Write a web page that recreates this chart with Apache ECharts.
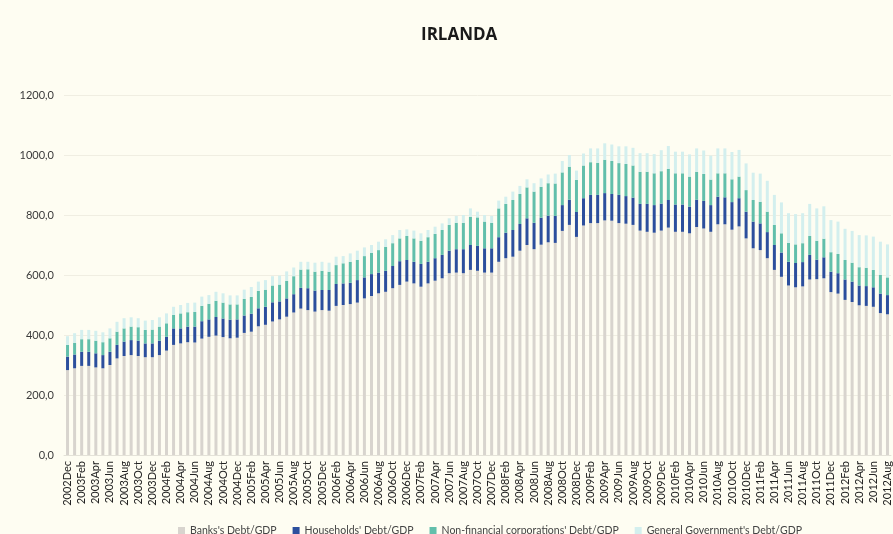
<!DOCTYPE html>
<html lang="it">
<head>
  <meta charset="UTF-8">
  <title>IRLANDA</title>
  <script src="https://cdn.jsdelivr.net/npm/echarts@6/dist/echarts.min.js"></script>
  <style>
    html, body { margin: 0; padding: 0; background: #fefdf2; }
    #chart { width: 893px; height: 534px; }
  </style>
</head>
<body>
<div id="chart"></div>
<script>
  // months 2002Dec .. 2012Aug
  const monthNames = ['Jan','Feb','Mar','Apr','May','Jun','Jul','Aug','Sep','Oct','Nov','Dec'];
  const categories = [];
  for (let i = 0; i < 117; i++) {
    const m = 11 + i;
    categories.push((2002 + Math.floor(m / 12)) + monthNames[m % 12]);
  }

  const banks = [
    283, 289, 297, 297, 292, 289, 300, 322, 330, 333, 330, 326, 326, 333, 348, 367, 372, 376, 375, 388,
    394, 398, 393, 389, 391, 407, 411, 429, 434, 445, 452, 461, 475, 488, 483, 478, 483, 481, 497, 500,
    503, 508, 522, 530, 539, 544, 556, 567, 578, 572, 561, 572, 581, 589, 606, 608, 606, 617, 614, 608,
    608, 644, 656, 661, 681, 700, 686, 701, 709, 707, 747, 767, 727, 765, 773, 773, 782, 781, 773, 771,
    767, 748, 744, 741, 748, 758, 744, 744, 739, 760, 755, 744, 769, 769, 751, 762, 722, 689, 683, 656,
    617, 594, 565, 559, 562, 585, 586, 589, 543, 538, 517, 510, 499, 497, 494, 473, 469
  ];
  const households = [
    45, 46, 47, 47, 47, 44, 44, 45, 48, 50, 51, 46, 46, 48, 46, 55, 50, 52, 53, 58,
    58, 62, 62, 62, 61, 58, 60, 60, 60, 64, 60, 61, 61, 69, 73, 70, 67, 69, 73, 72,
    71, 75, 70, 73, 69, 70, 74, 79, 72, 72, 76, 72, 75, 78, 75, 78, 80, 83, 83, 81,
    81, 82, 85, 89, 89, 89, 88, 90, 89, 90, 86, 84, 83, 91, 94, 94, 91, 89, 94, 92,
    91, 89, 93, 92, 90, 92, 91, 91, 89, 91, 92, 89, 92, 90, 92, 94, 89, 89, 89, 87,
    83, 81, 79, 81, 81, 82, 65, 70, 68, 68, 68, 68, 66, 66, 65, 65, 64
  ];
  const nonFinancial = [
    39, 39, 42, 42, 42, 43, 45, 44, 44, 45, 45, 45, 46, 47, 45, 45, 50, 48, 49, 51,
    52, 54, 53, 51, 50, 55, 56, 58, 57, 56, 56, 58, 60, 61, 63, 63, 64, 61, 63, 67,
    70, 67, 71, 71, 75, 80, 76, 76, 80, 78, 77, 82, 81, 83, 86, 88, 88, 94, 95, 89,
    85, 96, 96, 100, 100, 103, 104, 103, 108, 108, 109, 110, 107, 109, 109, 107, 111, 110, 106, 107,
    107, 107, 107, 106, 108, 104, 104, 104, 100, 93, 90, 85, 78, 80, 76, 72, 72, 72, 72, 68,
    67, 64, 63, 62, 63, 63, 63, 62, 65, 64, 65, 63, 61, 61, 58, 62, 59
  ];
  const government = [
    29, 32, 31, 31, 33, 33, 33, 33, 34, 31, 30, 31, 32, 31, 33, 27, 28, 31, 31, 31,
    29, 30, 31, 30, 30, 31, 33, 31, 32, 31, 30, 32, 29, 26, 25, 30, 30, 30, 28, 24,
    28, 31, 29, 26, 28, 25, 27, 28, 22, 26, 25, 24, 24, 22, 22, 23, 26, 28, 19, 22,
    23, 26, 24, 28, 27, 27, 28, 28, 29, 33, 38, 39, 31, 40, 46, 48, 55, 55, 56, 59,
    59, 62, 62, 64, 70, 76, 72, 72, 74, 78, 78, 80, 83, 83, 91, 89, 89, 91, 94, 103,
    100, 103, 99, 101, 100, 107, 108, 108, 107, 108, 104, 106, 107, 108, 111, 111, 110
  ];

  const seriesNames = ["Banks's Debt/GDP", "Households' Debt/GDP", "Non-financial corporations' Debt/GDP", "General Government's Debt/GDP"];
  const seriesColors = ['#d8d4ce', '#2c4f9d', '#62bfab', '#d3efee'];
  const seriesData = [banks, households, nonFinancial, government];

  const chart = echarts.init(document.getElementById('chart'));

  chart.setOption({
    backgroundColor: '#fefdf2',
    animation: false,
    title: {
      text: 'IRLANDA',
      left: 416,
      top: 22,
      textStyle: { fontFamily: 'Open Sans', fontSize: 17, fontWeight: 'bold', color: '#1a1a1a' }
    },
    legend: {
      left: 173,
      top: 520,
      icon: 'rect',
      itemWidth: 7,
      itemHeight: 7,
      itemGap: 16,
      textStyle: { fontFamily: 'Lato', fontSize: 10.5, color: '#444' },
      data: seriesNames
    },
    grid: { left: 64, right: 2, top: 95, bottom: 79 },
    xAxis: {
      type: 'category',
      data: categories,
      axisTick: { show: false },
      axisLine: { lineStyle: { color: '#e4e2d8' } },
      axisLabel: {
        interval: 1,
        rotate: 90,
        margin: 6,
        fontFamily: 'Lato',
        fontSize: 11,
        color: '#222'
      }
    },
    yAxis: {
      type: 'value',
      min: 0,
      max: 1200,
      interval: 200,
      axisLine: { show: false },
      axisTick: { show: false },
      splitLine: { lineStyle: { color: '#f0eee2' } },
      axisLabel: {
        margin: 10,
        fontFamily: 'Lato',
        fontSize: 11,
        color: '#3a3a3a',
        formatter: v => v.toFixed(1).replace('.', ',')
      }
    },
    series: seriesNames.map((name, i) => ({
      name: name,
      type: 'bar',
      stack: 'total',
      barWidth: 3,
      itemStyle: { color: seriesColors[i] },
      data: seriesData[i]
    }))
  });
</script>
</body>
</html>
